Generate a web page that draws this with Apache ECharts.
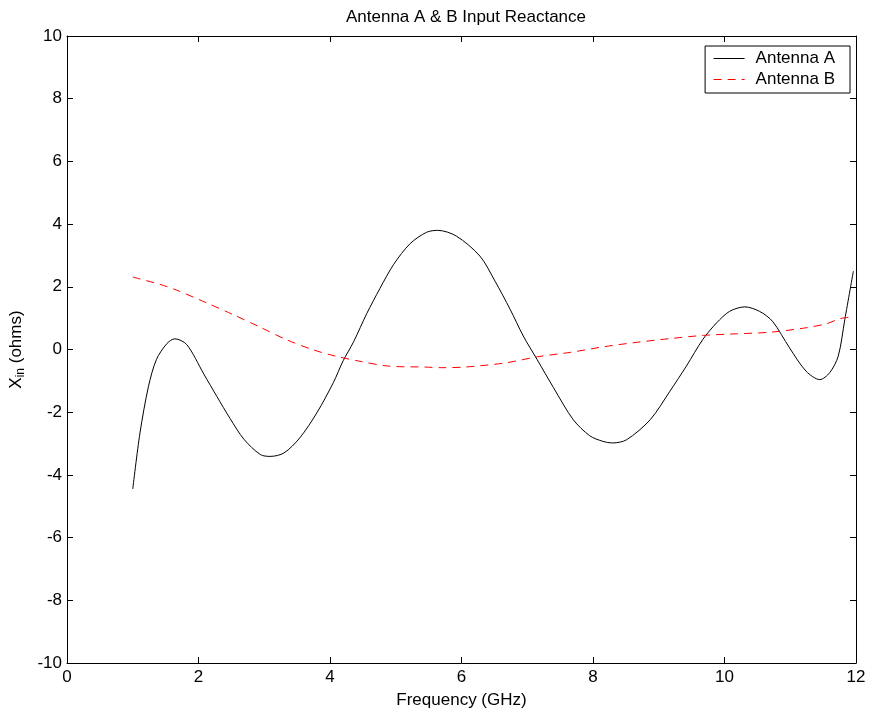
<!DOCTYPE html>
<html>
<head>
<meta charset="utf-8">
<script src="https://cdn.jsdelivr.net/npm/echarts@6/dist/echarts.min.js"></script>
<style>
  html, body { margin: 0; padding: 0; background: #fff; }
  #chart { width: 875px; height: 715px; }
</style>
</head>
<body>
<div id="chart"></div>
<script>
// Input reactance (ohms) versus frequency (GHz) for two antennas
const antennaAFreq = [1.00, 1.11, 1.24, 1.36, 1.52, 1.64, 1.82, 2.08, 2.28, 2.48, 2.69, 2.94, 3.09, 3.30, 3.54, 3.80, 4.05, 4.20, 4.36, 4.56, 4.76, 4.97, 5.22, 5.47, 5.64, 5.92, 6.28, 6.51, 6.74, 6.94, 7.15, 7.40, 7.70, 7.95, 8.15, 8.30, 8.51, 8.87, 9.17, 9.42, 9.67, 9.88, 10.08, 10.31, 10.53, 10.73, 10.99, 11.24, 11.45, 11.60, 11.73, 11.83, 11.96];
const antennaAX = [-4.45, -2.66, -1.17, -0.32, 0.19, 0.34, 0.16, -0.78, -1.50, -2.20, -2.86, -3.35, -3.41, -3.30, -2.82, -2.02, -1.06, -0.36, 0.25, 1.15, 1.95, 2.72, 3.38, 3.74, 3.80, 3.62, 2.98, 2.18, 1.28, 0.43, -0.32, -1.22, -2.24, -2.75, -2.93, -2.98, -2.88, -2.24, -1.33, -0.53, 0.32, 0.85, 1.22, 1.36, 1.22, 0.90, 0.05, -0.69, -0.96, -0.74, -0.21, 0.96, 2.50];

const antennaBFreq = [1.00, 1.41, 1.66, 2.12, 2.52, 2.93, 3.33, 3.73, 4.08, 4.44, 4.89, 5.44, 5.70, 6.05, 6.66, 7.16, 7.66, 8.17, 8.67, 9.18, 9.68, 10.18, 10.69, 11.20, 11.55, 11.75, 11.90];
const antennaBX = [2.31, 2.08, 1.90, 1.49, 1.12, 0.72, 0.32, 0.00, -0.21, -0.37, -0.53, -0.56, -0.58, -0.56, -0.43, -0.23, -0.09, 0.09, 0.23, 0.35, 0.45, 0.50, 0.55, 0.68, 0.82, 0.98, 1.03];

const xTicks = [0, 2, 4, 6, 8, 10, 12];
const yTicks = [-10, -8, -6, -4, -2, 0, 2, 4, 6, 8, 10];

const pairs = (xs, ys) => xs.map((x, i) => [x, ys[i]]);

const font = 'Liberation Sans, Arial, sans-serif';
const fs = 17;
const axisLine = { show: true, onZero: false, lineStyle: { color: '#000', width: 1 } };
const tick = { show: true, inside: true, length: 6, lineStyle: { color: '#000' } };

const chart = echarts.init(document.getElementById('chart'));
chart.setOption({
  animation: false,
  backgroundColor: '#fff',
  title: {
    text: 'Antenna A & B Input Reactance',
    left: 461, top: 4, textAlign: 'center',
    textStyle: { fontFamily: font, fontSize: fs, fontWeight: 'normal', color: '#000' }
  },
  legend: {
    orient: 'vertical',
    right: 25, top: 46,
    itemWidth: 31, itemHeight: 12, itemGap: 4,
    padding: [4, 15, 5, 8],
    borderColor: '#000', borderWidth: 1, borderRadius: 0,
    backgroundColor: '#fff',
    itemStyle: { opacity: 0 },
    lineStyle: { width: 1 },
    textStyle: { fontFamily: font, fontSize: fs, color: '#000', padding: [0, 0, 0, 6] },
    data: ['Antenna A', 'Antenna B']
  },
  grid: { left: 67, right: 19, top: 36, bottom: 52 },
  xAxis: [{
    type: 'value', min: 0, max: 12, interval: 2,
    name: 'Frequency (GHz)', nameLocation: 'middle', nameGap: 29,
    nameTextStyle: { fontFamily: font, fontSize: fs, color: '#000' },
    axisLine, axisTick: tick, splitLine: { show: false },
    axisLabel: { fontFamily: font, fontSize: fs, color: '#000', margin: 6,
      formatter: v => xTicks.includes(v) ? String(v) : '' }
  }, {
    type: 'value', min: 0, max: 12, interval: 2, position: 'top',
    axisLine, axisTick: tick, axisLabel: { show: false }, splitLine: { show: false }
  }],
  yAxis: [{
    type: 'value', min: -10, max: 10, interval: 2,
    name: 'X{sub|in} (ohms)', nameLocation: 'middle', nameGap: 31, nameRotate: 90,
    nameTextStyle: { fontFamily: font, fontSize: fs, color: '#000',
      rich: { sub: { fontFamily: font, fontSize: 12, color: '#000', verticalAlign: 'bottom', padding: [8, 0, 0, 0] } } },
    axisLine, axisTick: tick, splitLine: { show: false },
    axisLabel: { fontFamily: font, fontSize: fs, color: '#000', margin: 5,
      formatter: v => yTicks.includes(v) ? String(v) : '' }
  }, {
    type: 'value', min: -10, max: 10, interval: 2, position: 'right',
    axisLine, axisTick: tick, axisLabel: { show: false }, splitLine: { show: false }
  }],
  series: [{
    name: 'Antenna A', type: 'line', smooth: 0.3,
    symbol: 'none', showSymbol: false,
    lineStyle: { color: '#000', width: 1 }, itemStyle: { color: '#000' },
    data: pairs(antennaAFreq, antennaAX)
  }, {
    name: 'Antenna B', type: 'line', smooth: 0.3,
    symbol: 'none', showSymbol: false,
    lineStyle: { color: '#ff0000', width: 1, type: [8, 6] }, itemStyle: { color: '#ff0000' },
    data: pairs(antennaBFreq, antennaBX)
  }]
});
</script>
</body>
</html>
